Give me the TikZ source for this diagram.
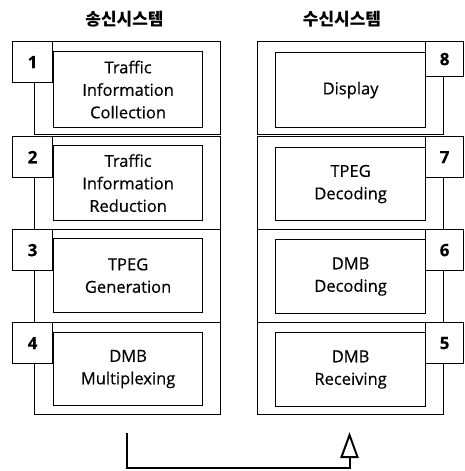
\documentclass[tikz,border=0pt]{standalone}
\usepackage{fontspec}
\setmainfont{Open Sans}[FakeBold=0.35]
\newfontfamily\krfont{Noto Sans CJK KR}
\newfontfamily\txtfont{Open Sans}[FakeBold=0.35]
\begin{document}
\begin{tikzpicture}[x=1pt,y=-1pt,
  frame/.style={draw,line width=1.2pt,minimum width=186pt,minimum height=93pt,inner sep=0pt,anchor=north west},
  numbox/.style={draw,fill=white,line width=1.2pt,minimum height=41pt,inner sep=0pt,font=\bfseries\fontsize{17}{17}\selectfont},
  inbox/.style={draw,line width=1.2pt,minimum height=76pt,inner sep=0pt,align=center,font=\txtfont\fontsize{16.5}{22.5}\selectfont},
  title/.style={font=\krfont\bfseries\fontsize{17}{17}\selectfont},
  conn/.style={line width=2pt},
  ahead/.style={line width=2pt,fill=white,line join=miter}]
\useasboundingbox[fill=white] (0,0) rectangle (464,471);
% titles
\node[title] (tl) at (124.5,19) {송신시스템};
\node[title] (tr) at (342,19) {수신시스템};
% left column frames
\node[frame] (L1) at (34,41) {};
\node[frame,minimum height=93pt] (L2) at (34,136) {};
\node[frame] (L3) at (34,229) {};
\node[frame,minimum height=92pt] (L4) at (34,322) {};
% right column frames
\node[frame] (R8) at (257,41) {};
\node[frame,minimum height=93pt] (R7) at (257,136) {};
\node[frame] (R6) at (257,229) {};
\node[frame,minimum height=92pt] (R5) at (257,322) {};
% left number boxes
\node[numbox,minimum width=40pt,anchor=north west] (n1) at (12,41) {1};
\node[numbox,minimum width=40pt,anchor=north west] (n2) at (12,136) {2};
\node[numbox,minimum width=40pt,anchor=north west] (n3) at (12,229) {3};
\node[numbox,minimum width=40pt,anchor=north west] (n4) at (12,322) {4};
% right number boxes
\node[numbox,minimum width=38pt,minimum height=35pt,anchor=north west] (n8) at (425,41) {8};
\node[numbox,minimum width=38pt,anchor=north west] (n7) at (425,136) {7};
\node[numbox,minimum width=38pt,anchor=north west] (n6) at (425,229) {6};
\node[numbox,minimum width=38pt,anchor=north west] (n5) at (425,322) {5};
% left inner boxes
\node[inbox,minimum width=149pt,anchor=north west] (b1) at (53,51) {Traffic\\Information\\Collection};
\node[inbox,minimum width=149pt,minimum height=75pt,anchor=north west] (b2) at (53,145) {Traffic\\Information\\Reduction};
\node[inbox,minimum width=149pt,minimum height=74pt,anchor=north west] (b3) at (53,238) {TPEG\\Generation};
\node[inbox,minimum width=149pt,minimum height=73pt,anchor=north west] (b4) at (53,332) {DMB\\Multiplexing};
% right inner boxes
\node[inbox,minimum width=150pt,minimum height=75pt,anchor=north west] (b8) at (275,52) {Display};
\node[inbox,minimum width=150pt,minimum height=73pt,anchor=north west] (b7) at (275,147) {TPEG\\Decoding};
\node[inbox,minimum width=150pt,minimum height=74pt,anchor=north west] (b6) at (275,239) {DMB\\Decoding};
\node[inbox,minimum width=150pt,minimum height=74pt,anchor=north west] (b5) at (275,332) {DMB\\Receiving};
% connector with hollow arrowhead
\coordinate (cs) at (127,433);
\coordinate (ce) at (349.5,457);
\draw[conn] (cs) -- ++(0,35) -| (ce);
\draw[ahead] (ce) -- ++(-8,0) -- ++(8,-22) -- ++(8,22) -- cycle;
\end{tikzpicture}
\end{document}
